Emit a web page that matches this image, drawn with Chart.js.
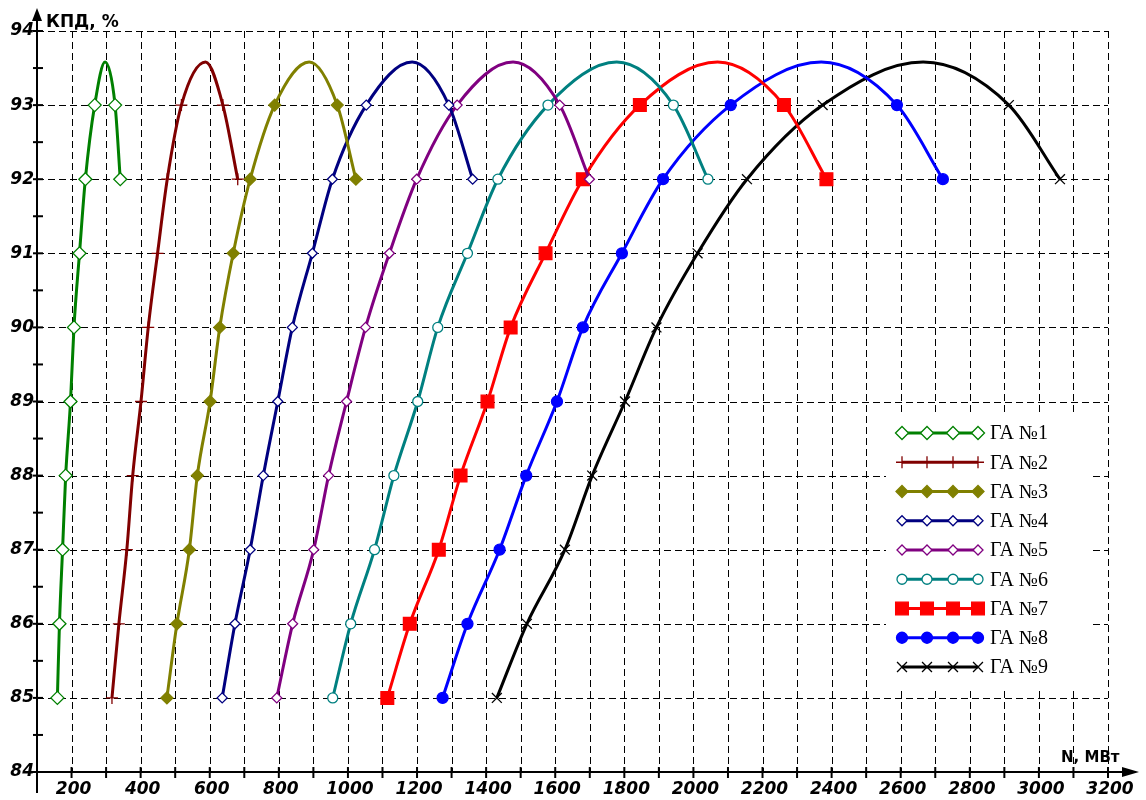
<!DOCTYPE html>
<html>
<head>
<meta charset="utf-8">
<script src="https://cdn.jsdelivr.net/npm/chart.js@4.4.1/dist/chart.umd.min.js"></script>
<style>
  html, body { margin: 0; padding: 0; background: #fff; }
</style>
</head>
<body>
<canvas id="kpd" width="1146" height="800"></canvas>
<script>
// КПД levels (same for every unit), peak point carries no marker
const effLevels = [85, 86, 87, 88, 89, 90, 91, 92, 93, 93.58, 93, 92];
const peakIndex = 9;

// power N, МВт at each КПД level
const ga1 = [159, 165, 174, 183, 197, 207, 223, 240, 267, 297, 326, 341];
const ga2 = [317, 337, 360, 377, 401, 422, 449, 477, 518, 588, 638, 681];
const ga3 = [476, 505, 541, 564, 601, 629, 668, 717, 788, 888, 969, 1023];
const ga4 = [636, 673, 717, 755, 797, 839, 897, 955, 1053, 1186, 1292, 1361];
const ga5 = [794, 840, 901, 944, 996, 1051, 1120, 1199, 1316, 1478, 1613, 1699];
const ga6 = [956, 1008, 1077, 1133, 1202, 1260, 1346, 1434, 1579, 1778, 1942, 2042];
const ga7 = [1114, 1179, 1263, 1326, 1404, 1471, 1572, 1680, 1845, 2070, 2262, 2385];
const ga8 = [1274, 1346, 1439, 1516, 1605, 1680, 1793, 1912, 2108, 2370, 2589, 2722];
const ga9 = [1431, 1518, 1628, 1707, 1802, 1893, 2012, 2155, 2374, 2665, 2913, 3061];

const names = ['ГА №1', 'ГА №2', 'ГА №3', 'ГА №4', 'ГА №5', 'ГА №6', 'ГА №7', 'ГА №8', 'ГА №9'];
const series = [ga1, ga2, ga3, ga4, ga5, ga6, ga7, ga8, ga9];

const colors = ['#008000', '#800000', '#808000', '#000080', '#800080', '#008080', '#ff0000', '#0000ff', '#000000'];
const markers = [
  {style: 'rectRot', r: 6.5, fill: '#ffffff'},
  {style: 'cross', r: 6, fill: null},
  {style: 'rectRot', r: 6, fill: '#808000'},
  {style: 'rectRot', r: 5, fill: '#ffffff'},
  {style: 'rectRot', r: 5, fill: '#ffffff'},
  {style: 'circle', r: 5, fill: '#ffffff'},
  {style: 'rect', r: 9, fill: '#ff0000'},
  {style: 'circle', r: 5.5, fill: '#0000ff'},
  {style: 'crossRot', r: 7, fill: null}
];

const tickFont = {family: '"DejaVu Sans", sans-serif', size: 17, style: 'italic', weight: 'bold'};

const datasets = series.map((vals, i) => ({
  label: names[i],
  data: vals.map((n, k) => ({x: n, y: effLevels[k]})),
  borderColor: colors[i],
  borderWidth: 3,
  pointStyle: markers[i].style,
  pointRadius: effLevels.map((v, k) => k === peakIndex ? 0 : markers[i].r),
  pointBackgroundColor: markers[i].fill || colors[i],
  pointBorderColor: colors[i],
  pointBorderWidth: 1.3,
  cubicInterpolationMode: 'monotone',
  tension: 0.4,
  fill: false
}));

// grid, axes with arrows, axis titles and the boxed legend
const decor = {
  id: 'decor',
  beforeDatasetsDraw(chart) {
    const {ctx, chartArea: a, scales: {x, y}} = chart;
    ctx.save();
    ctx.strokeStyle = '#000';
    ctx.lineWidth = 1;
    ctx.setLineDash([7, 4]);
    for (let v = 200; v <= 3200; v += 100) {
      const px = Math.round(x.getPixelForValue(v)) + 0.5;
      ctx.beginPath(); ctx.moveTo(px, a.top); ctx.lineTo(px, a.bottom); ctx.stroke();
    }
    for (let v = 85; v <= 94; v++) {
      const py = Math.round(y.getPixelForValue(v)) + 0.5;
      ctx.beginPath(); ctx.moveTo(a.left, py); ctx.lineTo(a.right, py); ctx.stroke();
    }
    ctx.restore();
  },
  afterDatasetsDraw(chart) {
    const {ctx, chartArea: a, scales: {x, y}} = chart;
    ctx.save();
    ctx.strokeStyle = '#000';
    ctx.fillStyle = '#000';
    ctx.lineWidth = 2;
    // y axis
    ctx.beginPath(); ctx.moveTo(a.left, 793); ctx.lineTo(a.left, 16); ctx.stroke();
    ctx.beginPath(); ctx.moveTo(a.left, 8); ctx.lineTo(a.left - 5, 21); ctx.lineTo(a.left + 5, 21); ctx.closePath(); ctx.fill();
    // x axis
    ctx.beginPath(); ctx.moveTo(31, a.bottom); ctx.lineTo(1125, a.bottom); ctx.stroke();
    ctx.beginPath(); ctx.moveTo(1139, a.bottom); ctx.lineTo(1122, a.bottom - 5); ctx.lineTo(1122, a.bottom + 5); ctx.closePath(); ctx.fill();
    // tick marks
    for (let v = 84.5; v <= 94; v += 0.5) {
      const py = y.getPixelForValue(v);
      ctx.beginPath(); ctx.moveTo(a.left - 4, py); ctx.lineTo(a.left + 6, py); ctx.stroke();
    }
    for (let v = 200; v <= 3200; v += 100) {
      const px = x.getPixelForValue(v);
      ctx.beginPath(); ctx.moveTo(px, a.bottom - 5); ctx.lineTo(px, a.bottom + 6); ctx.stroke();
    }
    // axis titles
    ctx.textBaseline = 'alphabetic';
    ctx.textAlign = 'left';
    ctx.font = 'bold 17px "DejaVu Sans", sans-serif';
    ctx.fillText('КПД, %', 46, 27);
    ctx.font = 'bold 15px "DejaVu Sans", sans-serif';
    ctx.fillText('N, МВт', 1061, 762);

    // legend
    ctx.fillStyle = '#fff';
    ctx.fillRect(886, 416, 207, 274);
    const mx = [902, 927, 953, 978];
    names.forEach((name, i) => {
      const ry = 433 + i * 29.25;
      ctx.strokeStyle = colors[i];
      ctx.lineWidth = 3;
      ctx.beginPath(); ctx.moveTo(mx[0], ry); ctx.lineTo(mx[3], ry); ctx.stroke();
      if (Chart.helpers && Chart.helpers.drawPoint) {
        ctx.fillStyle = markers[i].fill || colors[i];
        ctx.lineWidth = 1.3;
        mx.forEach(px => Chart.helpers.drawPoint(ctx, {pointStyle: markers[i].style, radius: markers[i].r, rotation: 0, borderWidth: 1.3}, px, ry));
      }
      ctx.fillStyle = '#000';
      ctx.font = '20px "Liberation Serif", serif';
      ctx.textBaseline = 'middle';
      ctx.fillText(name, 990, ry + 1);
    });
    ctx.restore();
  }
};

new Chart(document.getElementById('kpd').getContext('2d'), {
  type: 'line',
  data: {datasets},
  options: {
    responsive: false,
    animation: false,
    devicePixelRatio: 1,
    layout: {padding: {top: 31, right: 38, left: 0, bottom: 0}},
    plugins: {legend: {display: false}, tooltip: {enabled: false}},
    scales: {
      x: {
        type: 'linear', min: 100, max: 3200,
        grid: {display: false, drawTicks: false},
        border: {display: false},
        ticks: {
          stepSize: 100, autoSkip: false, maxRotation: 0, padding: 7, labelOffset: 2,
          color: '#000', font: tickFont,
          callback: v => v % 200 === 0 ? v : ''
        },
        afterFit: s => { s.height = 28; }
      },
      y: {
        type: 'linear', min: 84, max: 94,
        grid: {display: false, drawTicks: false},
        border: {display: false},
        ticks: {
          stepSize: 0.5, padding: 3, color: '#000', font: tickFont,
          callback: v => Number.isInteger(v) ? v : ''
        },
        afterFit: s => { s.width = 37; }
      }
    }
  },
  plugins: [decor]
});
</script>
</body>
</html>
